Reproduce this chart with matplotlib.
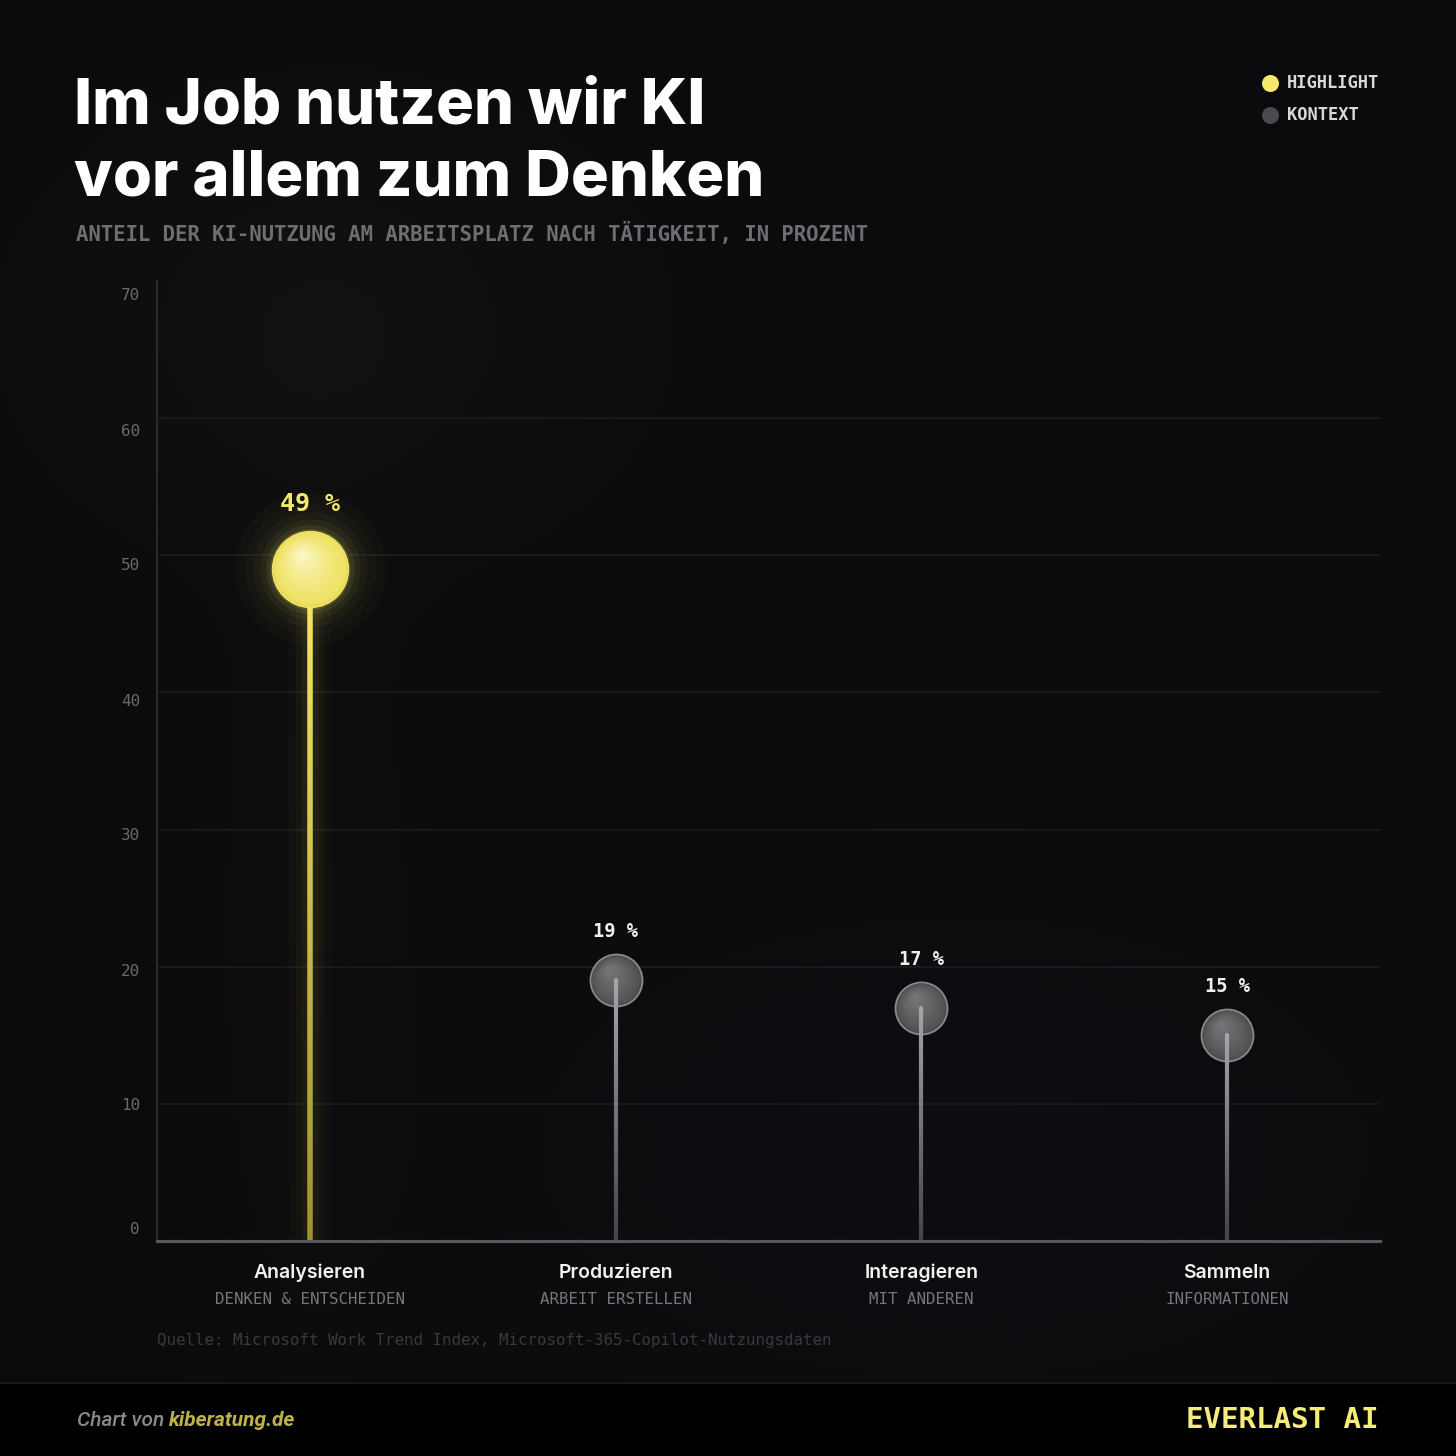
import numpy as np
import matplotlib
matplotlib.use("Agg")
import matplotlib.pyplot as plt
from matplotlib.collections import LineCollection
from matplotlib.transforms import offset_copy, blended_transform_factory
from matplotlib.patches import Rectangle
from matplotlib.colors import to_rgb

# ---------------- data ----------------
categories = ["Analysieren", "Produzieren", "Interagieren", "Sammeln"]
subtitles = ["DENKEN & ENTSCHEIDEN", "ARBEIT ERSTELLEN", "MIT ANDEREN", "INFORMATIONEN"]
values = [49, 19, 17, 15]
highlight = [True, False, False, False]
yticks = [0, 10, 20, 30, 40, 50, 60, 70]

title = "Im Job nutzen wir KI\nvor allem zum Denken"
subtitle = "ANTEIL DER KI-NUTZUNG AM ARBEITSPLATZ NACH TÄTIGKEIT, IN PROZENT"
source = "Quelle: Microsoft Work Trend Index, Microsoft-365-Copilot-Nutzungsdaten"

W = H = 1456
BG = "#0b0b0e"
YEL = "#f3e86c"
MONO = "DejaVu Sans Mono"

fig = plt.figure(figsize=(W / 100, H / 100), dpi=100)
fig.patch.set_facecolor(BG)

# ---------- background with subtle glows ----------
bg = fig.add_axes([0, 0, 1, 1], zorder=-10)
bg.set_xlim(0, W); bg.set_ylim(H, 0); bg.axis("off")
yy, xx = np.mgrid[0:H:2, 0:W:2]
base = np.array([0.043, 0.043, 0.054])
img = np.ones(yy.shape + (3,)) * base
g1 = np.exp(-(((xx - 330) / 260) ** 2 + ((yy - 330) / 200) ** 2))
img += g1[..., None] * np.array([0.024, 0.022, 0.010])
g2 = np.exp(-(((xx - 950) / 450) ** 2 + ((yy - 1150) / 250) ** 2))
img += g2[..., None] * np.array([0.010, 0.010, 0.014])
g3 = np.exp(-(((xx - 310) / 90) ** 2 + ((yy - 900) / 400) ** 2))
img += g3[..., None] * np.array([0.010, 0.009, 0.003])
bayer = np.array([[0, 8, 2, 10], [12, 4, 14, 6], [3, 11, 1, 9], [15, 7, 13, 5]]) / 16.0 - 0.5
dith = np.tile(bayer, (yy.shape[0] // 4 + 1, yy.shape[1] // 4 + 1))[:yy.shape[0], :yy.shape[1]]
img = np.floor(img * 255 + 0.5 + dith[..., None]) / 255
bg.imshow(np.clip(img, 0, 1), extent=[0, W, H, 0], aspect="auto", interpolation="nearest")
bg.add_patch(Rectangle((0, 1383), W, 73, facecolor="#000000", edgecolor="none"))
bg.plot([0, W], [1383, 1383], color="#1c1c20", lw=1.2)

# ---------- main axes ----------
x0, x1 = 157, 1380
ytop, ybot = 281, 1241
ppu = (ybot - ytop) / 70.0
ax = fig.add_axes([x0 / W, 1 - ybot / H, (x1 - x0) / W, (ybot - ytop) / H])
ax.set_facecolor("none")
ax.set_xlim(-0.5, len(categories) - 0.5)
ax.set_ylim(0, 70)
for s in ["top", "right"]:
    ax.spines[s].set_visible(False)
ax.spines["left"].set_color("#2a2a2e"); ax.spines["left"].set_linewidth(1.5)
ax.spines["bottom"].set_color("#58585c"); ax.spines["bottom"].set_linewidth(2.2)
ax.spines["bottom"].set_zorder(6)
ax.set_xticks([]); ax.set_yticks([])
for t in yticks[1:-1]:
    ax.axhline(t, color="#1d1d21", lw=1.1, zorder=0)

tr = blended_transform_factory(ax.transAxes, ax.transData)
for t in yticks:
    pix = 296 + 13.5 * (70 - t) if t > 0 else 1230
    ypos = (ybot - pix) / ppu
    ax.text(-17 / (x1 - x0), ypos, str(t), transform=tr, ha="right", va="center",
            fontsize=11.5, family=MONO, color="#6a6a6e")


def gradient_ball(x, v, diam_px, c_base, c_hi, max_off_px, z, n=28, gamma=1.3):
    d_pt = diam_px * 0.72
    cb, ch = np.array(to_rgb(c_base)), np.array(to_rgb(c_hi))
    for k in range(1, n):
        t = k / n
        off = max_off_px * t
        col = cb + (ch - cb) * t ** gamma
        ax.scatter([x], [v], s=(d_pt * (1 - t)) ** 2, color=col, linewidths=0, zorder=z,
                   transform=offset_copy(ax.transData, fig, x=-off * 0.6, y=off, units="dots"))


xs = np.arange(len(categories))
for x, v, hl in zip(xs, values, highlight):
    n = 60
    ys = np.linspace(0, v, n + 1)
    segs = [[(x, ys[i]), (x, ys[i + 1])] for i in range(n)]
    f = np.linspace(0, 1, n)[:, None]
    if hl:
        c_bot = np.array([0.62, 0.57, 0.20]); c_top = np.array([0.97, 0.91, 0.42])
        cols = c_bot + (c_top - c_bot) * f
        for lw, a in [(30, 0.025), (20, 0.035), (12, 0.05)]:
            ax.add_collection(LineCollection(segs, colors=np.hstack([cols, np.full((n, 1), a)]),
                                             linewidths=lw, zorder=2, capstyle="butt"))
        ax.add_collection(LineCollection(segs, colors=cols, linewidths=4, zorder=3, capstyle="butt"))
        for s, a in [(12000, 0.018), (9000, 0.025), (6800, 0.035), (5200, 0.05), (4100, 0.08), (3400, 0.12)]:
            ax.scatter([x], [v], s=s, color=YEL, alpha=a, linewidths=0, zorder=4)
        ax.scatter([x], [v], s=(76 * 0.72) ** 2, color="#eadc5a", edgecolors="#efe168",
                   linewidths=1.0, zorder=5)
        gradient_ball(x, v, 74, "#efe264", "#fcf8cc", 16, 5)
        ax.annotate(f"{v} %", (x, v), xytext=(0, 47), textcoords="offset points",
                    ha="center", va="center", fontsize=18, family=MONO, weight="bold", color=YEL, zorder=6)
    else:
        c_bot = np.array([0.26, 0.26, 0.28]); c_top = np.array([0.64, 0.64, 0.66])
        cols = c_bot + (c_top - c_bot) * f
        ax.scatter([x], [v], s=(52 * 0.72) ** 2, color="#4c4c4f", edgecolors="#8a8a8e",
                   linewidths=1.3, zorder=4)
        gradient_ball(x, v, 50, "#4e4e51", "#78787b", 12, 4, gamma=0.8)
        ax.add_collection(LineCollection(segs, colors=cols, linewidths=3, zorder=5, capstyle="round"))
        ax.annotate(f"{v} %", (x, v), xytext=(0, 35), textcoords="offset points",
                    ha="center", va="center", fontsize=13.5, family=MONO, weight="bold",
                    color="#f0f0f0", zorder=6)

trx = blended_transform_factory(ax.transData, fig.transFigure)
for x, c, s in zip(xs, categories, subtitles):
    ax.text(x, 1 - 1273 / H, c, transform=trx, ha="center", va="center", fontsize=14,
            family="Inter", weight="semibold", color="#f2f2f2")
    ax.text(x, 1 - 1300 / H, s, transform=trx, ha="center", va="center", fontsize=11.3,
            family=MONO, color="#77777b")

# ---------- texts ----------
fig.text(74 / W, 1 - 195 / H, title, ha="left", va="baseline", fontsize=45.5, family="Inter",
         weight="heavy", color="#ffffff", linespacing=1.27)
fig.text(76 / W, 1 - 233 / H, subtitle, ha="left", va="center", fontsize=14.85, family=MONO,
         weight="bold", color="#6e6e72")
fig.text(157 / W, 1 - 1340 / H, source, ha="left", va="center", fontsize=11.4, family=MONO,
         color="#3a3a3e")

bg.scatter([1270], [83], s=150, color=YEL, linewidths=0)
bg.scatter([1270], [115], s=150, color="#4a4a4e", linewidths=0)
fig.text(1287 / W, 1 - 83 / H, "HIGHLIGHT", ha="left", va="center", fontsize=12.3, family=MONO,
         weight="bold", color="#d8d8d8")
fig.text(1287 / W, 1 - 115 / H, "KONTEXT", ha="left", va="center", fontsize=12.3, family=MONO,
         weight="bold", color="#d8d8d8")

t1 = fig.text(77 / W, 1 - 1421 / H, "Chart von ", ha="left", va="center", fontsize=15,
              family="Roboto", style="italic", weight="medium", color="#8a8a8a")
fig.canvas.draw()
bb = t1.get_window_extent()
fig.text(bb.x1 / W, 1 - 1421 / H, "kiberatung.de", ha="left", va="center", fontsize=15,
         family="Roboto", style="italic", weight="bold", color="#bdb349")
fig.text(1378 / W, 1 - 1420 / H, "EVERLAST AI", ha="right", va="center", fontsize=21,
         family=MONO, weight="bold", color="#f5ec7a")

fig.savefig("out.png", dpi=100, facecolor=fig.get_facecolor())
